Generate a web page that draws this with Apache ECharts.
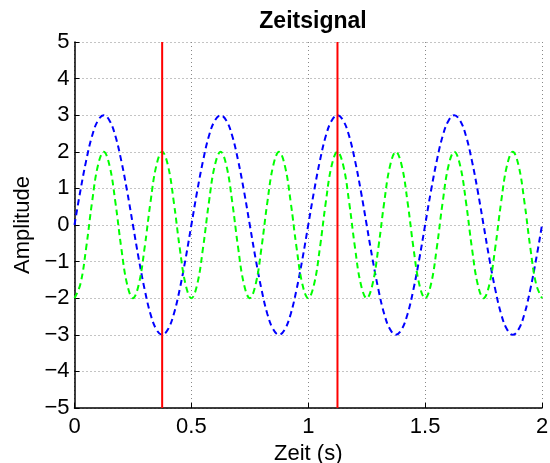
<!DOCTYPE html>
<html><head><meta charset="utf-8">
<script src="https://cdn.jsdelivr.net/npm/echarts@6/dist/echarts.min.js"></script>
<style>html,body{margin:0;padding:0;background:#fff}#c{width:550px;height:463px}</style>
</head><body><div id="c"></div>
<script>
var timeS = [0,0.025,0.05,0.075,0.1,0.125,0.15,0.175,0.2,0.225,0.25,0.275,0.3,0.325,0.35,0.375,0.4,0.425,0.45,0.475,
0.5,0.525,0.55,0.575,0.6,0.625,0.65,0.675,0.7,0.725,0.75,0.775,0.8,0.825,0.85,0.875,0.9,0.925,0.95,0.975,
1,1.025,1.05,1.075,1.1,1.125,1.15,1.175,1.2,1.225,1.25,1.275,1.3,1.325,1.35,1.375,1.4,1.425,1.45,1.475,
1.5,1.525,1.55,1.575,1.6,1.625,1.65,1.675,1.7,1.725,1.75,1.775,1.8,1.825,1.85,1.875,1.9,1.925,1.95,1.975,2];
var blueSignal = [0,0.93,1.76,2.43,2.85,3,2.85,2.43,1.76,0.93,0,-0.93,-1.76,-2.43,-2.85,-3,-2.85,-2.43,-1.76,-0.93,
0,0.93,1.76,2.43,2.85,3,2.85,2.43,1.76,0.93,0,-0.93,-1.76,-2.43,-2.85,-3,-2.85,-2.43,-1.76,-0.93,
0,0.93,1.76,2.43,2.85,3,2.85,2.43,1.76,0.93,0,-0.93,-1.76,-2.43,-2.85,-3,-2.85,-2.43,-1.76,-0.93,
0,0.93,1.76,2.43,2.85,3,2.85,2.43,1.76,0.93,0,-0.93,-1.76,-2.43,-2.85,-3,-2.85,-2.43,-1.76,-0.93,0];
var greenSignal = [-2,-1.62,-0.62,0.62,1.62,2,1.62,0.62,-0.62,-1.62,
-2,-1.62,-0.62,0.62,1.62,2,1.62,0.62,-0.62,-1.62,
-2,-1.62,-0.62,0.62,1.62,2,1.62,0.62,-0.62,-1.62,
-2,-1.62,-0.62,0.62,1.62,2,1.62,0.62,-0.62,-1.62,
-2,-1.62,-0.62,0.62,1.62,2,1.62,0.62,-0.62,-1.62,
-2,-1.62,-0.62,0.62,1.62,2,1.62,0.62,-0.62,-1.62,
-2,-1.62,-0.62,0.62,1.62,2,1.62,0.62,-0.62,-1.62,
-2,-1.62,-0.62,0.62,1.62,2,1.62,0.62,-0.62,-1.62,-2];
var markerTimes = [0.375, 1.125];
var yRange = [-5, 5];

function pairs(xs, ys){ return xs.map(function(x,i){ return [x, ys[i]]; }); }

var FONT = 'Liberation Sans, Arial, sans-serif';
var series = [
  {type:'line', data:pairs(timeS, blueSignal), smooth:0.4, showSymbol:false, symbol:'none',
   lineStyle:{color:'#0000ff', width:2, type:[6,4]}, z:3},
  {type:'line', data:pairs(timeS, greenSignal), smooth:0.4, showSymbol:false, symbol:'none',
   lineStyle:{color:'#00ff00', width:2, type:[6,4]}, z:3}
];
markerTimes.forEach(function(t){
  series.push({type:'line', data:[[t, yRange[0]],[t, yRange[1]]], showSymbol:false, symbol:'none',
    lineStyle:{color:'#ff0000', width:2, type:'solid'}, z:4});
});

var chart = echarts.init(document.getElementById('c'), null, {renderer:'canvas'});
chart.setOption({
  animation:false,
  backgroundColor:'#fff',
  title:{text:'Zeitsignal', left:308, top:5, textAlign:'center',
    textStyle:{fontFamily:FONT, fontSize:23, fontWeight:'bold', color:'#000'}},
  grid:{left:74.5, right:8, top:42, bottom:55, containLabel:false, outerBoundsMode:'none'},
  xAxis:{type:'value', min:0, max:2, interval:0.5,
    name:'Zeit (s)', nameLocation:'middle', nameGap:27,
    nameTextStyle:{fontFamily:FONT, fontSize:22, color:'#000'},
    axisLine:{show:true, onZero:false, lineStyle:{color:'#000', width:1.5}},
    axisTick:{show:true, inside:true, length:5, lineStyle:{color:'#000'}},
    axisLabel:{fontFamily:FONT, fontSize:22, color:'#000', margin:8},
    splitLine:{show:true, lineStyle:{color:'#888', width:1, type:[1,3]}}},
  yAxis:{type:'value', min:-5, max:5, interval:1,
    name:'Amplitude', nameLocation:'middle', nameGap:39, nameRotate:90,
    nameTextStyle:{fontFamily:FONT, fontSize:22, color:'#000'},
    axisLine:{show:true, onZero:false, lineStyle:{color:'#000', width:1.5}},
    axisTick:{show:true, inside:true, length:5, lineStyle:{color:'#000'}},
    axisLabel:{fontFamily:FONT, fontSize:22, color:'#000', margin:5,
      formatter:function(v){ return v < 0 ? '\u2212' + Math.abs(v) : String(v); }},
    splitLine:{show:true, lineStyle:{color:'#888', width:1, type:[1,3]}}},
  series:series
});
</script></body></html>
